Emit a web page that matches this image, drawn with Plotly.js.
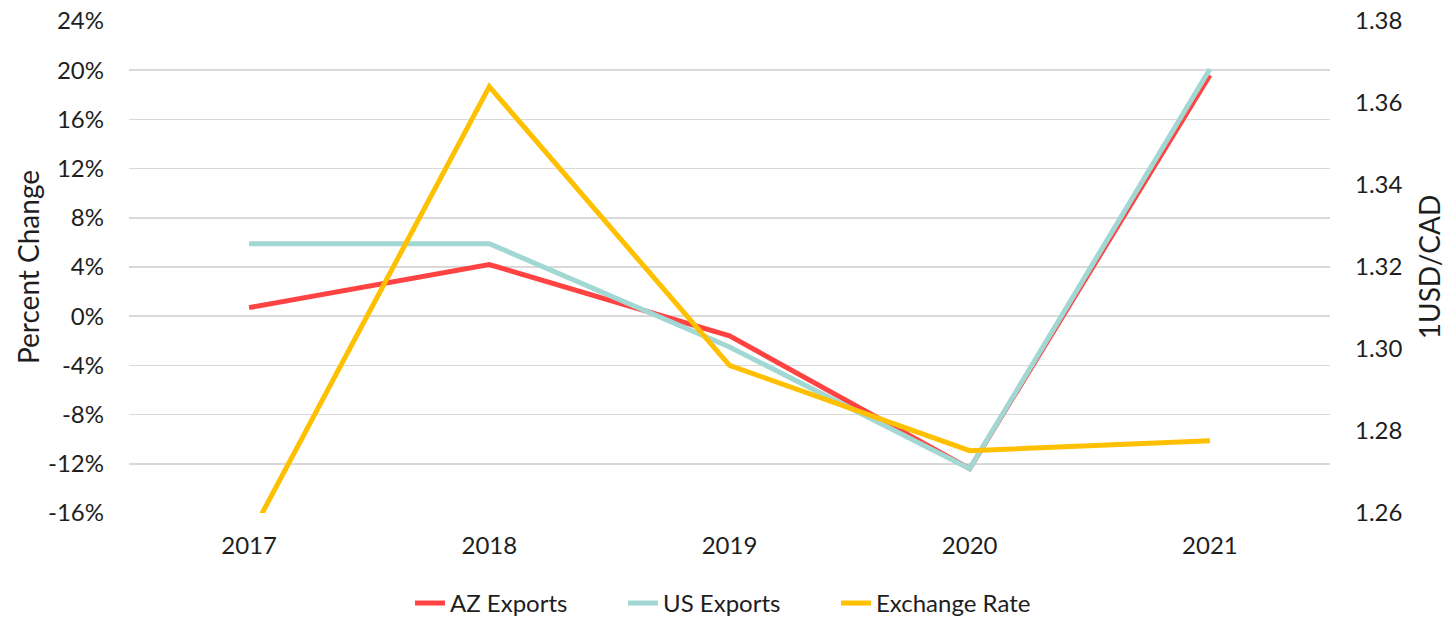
<!DOCTYPE html>
<html>
<head>
<meta charset="utf-8">
<script src="https://cdn.plot.ly/plotly-3.0.1.min.js"></script>
<style>html,body{margin:0;padding:0;background:#fff;}#chart{width:1452px;height:617px;}</style>
</head>
<body>
<div id="chart"></div>
<script>
const years = ["2017", "2018", "2019", "2020", "2021"];
const azExports = [0.7, 4.2, -1.6, -12.4, 19.6];
const usExports = [5.9, 5.9, -2.5, -12.4, 20.1];
const exchangeRate = [1.2540, 1.3640, 1.2960, 1.2752, 1.2776];
const pctTickVals = [-16, -12, -8, -4, 0, 4, 8, 12, 16, 20, 24];
const pctTickText = ["-16%", "-12%", "-8%", "-4%", "0%", "4%", "8%", "12%", "16%", "20%", "24%"];

const fontFam = "Lato, 'Open Sans', sans-serif";
const txt = "#1e1e1e";

const traces = [
  {x: years, y: azExports, name: "AZ Exports", type: "scatter", mode: "lines",
   line: {color: "#FF4343", width: 5}, yaxis: "y"},
  {x: years, y: usExports, name: "US Exports", type: "scatter", mode: "lines",
   line: {color: "#A2D8D3", width: 5}, yaxis: "y"},
  {x: years, y: exchangeRate, name: "Exchange Rate", type: "scatter", mode: "lines",
   line: {color: "#FFC000", width: 5}, yaxis: "y2"}
];

const layout = {
  width: 1452, height: 617,
  margin: {l: 129, r: 122, t: 21, b: 104},
  paper_bgcolor: "#fff", plot_bgcolor: "#fff",
  font: {family: fontFam, size: 23, color: txt},
  showlegend: true,
  legend: {orientation: "h", x: 0.5, xanchor: "center", xref: "paper",
           y: 0.022, yanchor: "middle", yref: "container",
           font: {size: 24, color: txt}, entrywidth: 168, entrywidthmode: "pixels"},
  xaxis: {type: "category", range: [-0.5, 4.5], showgrid: false, zeroline: false,
          showline: false, ticks: "", tickfont: {size: 24, color: txt}, ticklabelstandoff: 16},
  yaxis: {range: [-16, 24], tickmode: "array", tickvals: pctTickVals, ticktext: pctTickText,
          showgrid: true, gridcolor: "#d9d9d9", gridwidth: 1.5, zeroline: false, showline: false,
          tickfont: {size: 24, color: txt}, ticklabelstandoff: 24,
          title: {text: "Percent Change", font: {size: 28, color: txt}, standoff: 0}},
  yaxis2: {range: [1.26, 1.38], dtick: 0.02, tick0: 1.26, tickformat: ".2f", overlaying: "y",
           side: "right", showgrid: false, zeroline: false, showline: false,
           tickfont: {size: 24, color: txt}, ticklabelstandoff: 24,
           title: {text: "1USD/CAD", font: {size: 28, color: txt}, standoff: 18}}
};

Plotly.newPlot("chart", traces, layout, {displayModeBar: false, staticPlot: true});
</script>
</body>
</html>
